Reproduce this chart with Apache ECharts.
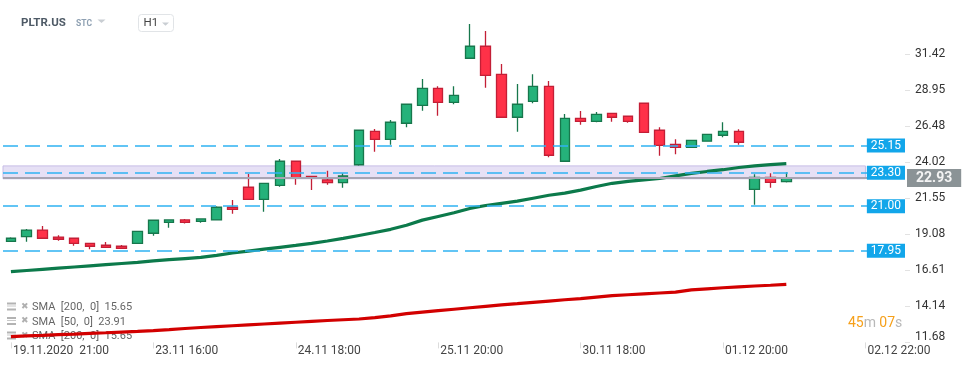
<!DOCTYPE html>
<html>
<head>
<meta charset="utf-8">
<script src="https://cdn.jsdelivr.net/npm/echarts@6/dist/echarts.min.js"></script>
<style>
html,body{margin:0;padding:0;background:#fff;}
#c{width:974px;height:368px;}
</style>
</head>
<body>
<div id="c"></div>
<script>
const categories = [
"19.11.2020 21:00",
"20.11.2020 15:00","20.11.2020 16:00","20.11.2020 17:00","20.11.2020 18:00","20.11.2020 19:00","20.11.2020 20:00","20.11.2020 21:00",
"23.11.2020 15:00","23.11.2020 16:00","23.11.2020 17:00","23.11.2020 18:00","23.11.2020 19:00","23.11.2020 20:00","23.11.2020 21:00",
"24.11.2020 15:00","24.11.2020 16:00","24.11.2020 17:00","24.11.2020 18:00","24.11.2020 19:00","24.11.2020 20:00","24.11.2020 21:00",
"25.11.2020 15:00","25.11.2020 16:00","25.11.2020 17:00","25.11.2020 18:00","25.11.2020 19:00","25.11.2020 20:00","25.11.2020 21:00",
"27.11.2020 15:00","27.11.2020 16:00","27.11.2020 17:00","27.11.2020 18:00",
"30.11.2020 15:00","30.11.2020 16:00","30.11.2020 17:00","30.11.2020 18:00","30.11.2020 19:00","30.11.2020 20:00","30.11.2020 21:00",
"01.12.2020 15:00","01.12.2020 16:00","01.12.2020 17:00","01.12.2020 18:00","01.12.2020 19:00","01.12.2020 20:00","01.12.2020 21:00",
"02.12.2020 15:00","02.12.2020 16:00","02.12.2020 17:00",
"02.12.2020 18:00","02.12.2020 19:00","02.12.2020 20:00","02.12.2020 21:00","02.12.2020 22:00","02.12.2020 23:00","03.12.2020 00:00"
];

const opens  = [18.60,18.92,19.37,18.89,18.81,18.46,18.33,18.26,18.46,19.15, 19.90,20.06,19.97,20.06,20.93,22.30,21.47,22.43,24.08,23.05, 22.80,22.61,23.84,26.13,25.58,26.68,27.91,29.07,28.11,31.13, 31.95,30.03,27.09,28.18,29.21,24.08,27.02,26.81,27.36,27.16, 28.05,26.20,25.24,25.03,25.45,25.86,26.13,22.16,22.98,22.68];
const closes = [18.81,19.37,18.81,18.74,18.46,18.26,18.19,18.12,19.28,20.04, 20.06,19.90,20.13,20.93,20.79,21.47,22.57,24.08,22.95,22.93, 22.61,23.07,26.20,25.58,26.75,27.98,29.07,28.11,28.59,31.95, 29.96,27.09,27.98,29.21,24.49,27.02,26.81,27.29,27.09,26.81, 26.06,25.17,25.03,25.51,25.92,26.13,25.38,22.98,22.64,22.93];
const lows   = [18.58,18.57,18.79,18.64,18.30,18.05,18.17,18.10,18.44,18.98, 19.53,19.81,19.87,20.04,20.49,21.45,20.63,22.34,22.47,22.11, 22.47,22.27,23.77,24.73,25.21,26.40,27.54,27.20,27.98,31.10, 29.11,27.07,26.10,28.05,24.35,24.05,26.58,26.75,26.79,26.72, 26.04,24.46,24.56,25.00,25.43,25.72,25.21,21.11,22.27,22.62];
const highs  = [18.87,19.44,19.65,19.01,18.83,18.48,18.55,18.35,19.30,20.06, 20.08,20.13,20.15,21.00,21.43,23.21,22.60,24.23,24.10,23.07, 23.43,23.25,26.22,26.29,26.90,28.00,29.71,29.21,29.21,33.47, 32.99,30.74,29.37,30.03,29.57,27.31,27.52,27.45,27.38,27.18, 28.07,26.40,25.58,25.53,25.94,26.75,26.27,23.19,23.25,23.32];

const sma50  = [16.52,16.60,16.68,16.76,16.84,16.92,17.00,17.08,17.16,17.26, 17.34,17.42,17.50,17.64,17.80,17.93,18.06,18.19,18.32,18.46, 18.62,18.80,19.00,19.20,19.42,19.70,20.05,20.30,20.55,20.85, 21.05,21.20,21.35,21.55,21.75,21.90,22.10,22.35,22.57,22.70, 22.80,22.90,23.08,23.25,23.38,23.50,23.65,23.76,23.85,23.91];
const sma200 = [12.07,12.12,12.16,12.21,12.25,12.30,12.34,12.39,12.43,12.48, 12.55,12.63,12.70,12.76,12.82,12.88,12.94,13.00,13.06,13.12, 13.18,13.23,13.28,13.38,13.50,13.65,13.75,13.85,13.95,14.05, 14.15,14.25,14.33,14.42,14.51,14.60,14.68,14.78,14.88,14.94, 15.00,15.06,15.12,15.28,15.35,15.42,15.48,15.54,15.59,15.65];

const yTicks = [11.68,14.14,16.61,19.08,21.55,24.02,26.48,28.95,31.42];
const levels = [25.15,23.30,21.00,17.95];
const zoneRange = [22.88,23.76];
const lastPrice = 22.93;
const labelEvery = 9;
const zoneEndIndex = 54;

const candleData = opens.map((o,i)=>[o, closes[i], lows[i], highs[i]]);

const chart = echarts.init(document.getElementById('c'), null, {renderer:'canvas'});
const FONT = 'Roboto, "Noto Sans", sans-serif';

const levelLines = levels.map(v => ({
  yAxis: v,
  lineStyle: {color:'#2fb2f2', width:1.6, type:[15,7]},
  label: {
    show:true, position:'insideEnd', distance:0,
    formatter: p => Number(p.value).toFixed(2),
    backgroundColor:'#12a6ea', color:'#ffffff', fontSize:12, fontFamily:FONT,
    padding:[1,4,1,4], lineHeight:12
  }
}));
const priceLine = {
  yAxis: lastPrice,
  lineStyle: {color:'#a7a4b3', width:2, type:'solid'},
  label: {
    show:true, position:'end', distance:2,
    formatter: p => Number(p.value).toFixed(2),
    backgroundColor:'#8b9396', color:'#f4f4f4', fontSize:14, fontWeight:'bold', fontFamily:FONT,
    padding:[1,9,1,9], lineHeight:16
  }
};

const last50 = sma50[sma50.length-1].toFixed(2);
const last200 = sma200[sma200.length-1].toFixed(2);
const legendRows = [
  'SMA  [200,  0]  ' + last200,
  'SMA  [50,  0]  ' + last50,
  'SMA  [200,  0]  ' + last200
];
const legendY = [306.5, 321, 335.5];
const legendGraphics = [];
legendRows.forEach((t,i)=>{
  const y = legendY[i];
  legendGraphics.push({type:'rect', shape:{x:7,y:y-4,width:9,height:2}, style:{fill:'#b3b3b3'}, z:0});
  legendGraphics.push({type:'rect', shape:{x:7,y:y-1,width:9,height:1}, style:{fill:'#c8c8c8'}, z:0});
  legendGraphics.push({type:'rect', shape:{x:7,y:y+2,width:9,height:2}, style:{fill:'#b3b3b3'}, z:0});
  legendGraphics.push({type:'text', style:{text:'✖', x:21, y:y, fill:'#b0b0b0', font:'bold 9px "DejaVu Sans"', verticalAlign:'middle'}, z:0});
  legendGraphics.push({type:'text', style:{text:t, x:32, y:y+1, fill:'#666', font:'11px '+FONT, verticalAlign:'middle'}, z:0});
});

const option = {
  animation:false,
  backgroundColor:'#ffffff',
  grid:{left:3, right:69, top:5, bottom:25.6},
  xAxis:{
    type:'category', data:categories, boundaryGap:true,
    axisLine:{show:false},
    axisTick:{show:true, alignWithLabel:true, interval:(i)=>i%labelEvery===0, length:6, lineStyle:{color:'#dcdcdc'}},
    axisLabel:{
      interval:(i)=>i%labelEvery===0, align:'left', margin:3, padding:[0,0,0,2],
      color:'#444', fontSize:12, fontFamily:FONT,
      formatter:(v,i)=> i===0 ? v.replace(' ','  ') : v.slice(0,5)+' '+v.slice(11)
    },
    splitLine:{show:false}
  },
  yAxis:{
    type:'value', position:'right', min:11.68, max:34.774, scale:true,
    axisLine:{show:false},
    splitLine:{show:false},
    axisTick:{show:true, customValues:yTicks, length:5, lineStyle:{color:'#e2e2e2'}},
    axisLabel:{
      customValues:yTicks, margin:10, color:'#333', fontSize:12, fontFamily:FONT,
      formatter:(v)=> Math.abs(v-yTicks[0])<1e-6 ? '{lo|'+Number(v).toFixed(2)+'}' : Number(v).toFixed(2),
      rich:{lo:{fontSize:12, color:'#333', fontFamily:FONT, padding:[0,0,10,0]}}
    }
  },
  series:[
    {
      type:'candlestick', name:'PLTR.US', data:candleData, barWidth:10, z:2,
      itemStyle:{color:'#25b27a', color0:'#ff3148', borderColor:'#17774c', borderColor0:'#c31f36', borderWidth:1.3}
    },
    {
      type:'line', name:'SMA 50', data:sma50, showSymbol:false, symbol:'none', z:3,
      lineStyle:{color:'#0c7a4b', width:3.2}
    },
    {
      type:'line', name:'SMA 200', data:sma200, showSymbol:false, symbol:'none', z:3,
      lineStyle:{color:'#d20000', width:3.2}
    },
    {
      type:'line', name:'levels', data:[], z:4,
      markLine:{symbol:'none', silent:true, animation:false, data:[priceLine].concat(levelLines)}
    },
    {
      type:'line', name:'zone', data:[], z:5,
      markArea:{silent:true, animation:false,
        itemStyle:{color:'rgba(182,164,226,0.34)', borderColor:'#c6bce6', borderWidth:1},
        data:[[{yAxis:zoneRange[1]},{xAxis:zoneEndIndex, yAxis:zoneRange[0]}]]
      }
    }
  ],
  graphic:[
    {type:'text', style:{text:'PLTR.US', x:21, y:23, fill:'#4e5a66', font:'bold 11.5px '+FONT, verticalAlign:'middle'}},
    {type:'text', style:{text:'STC', x:76, y:24, fill:'#8ea0b2', font:'bold 8.5px '+FONT, verticalAlign:'middle'}},
    {type:'polygon', shape:{points:[[97.5,19.5],[105.5,19.5],[101.5,23]]}, style:{fill:'#c9ced3'}},
    {type:'rect', shape:{x:138.5,y:14.5,width:35,height:17,r:3}, style:{fill:'#fff', stroke:'#e1e4e7', lineWidth:1}},
    {type:'text', style:{text:'H1', x:143.5, y:23.5, fill:'#444', font:'11.5px '+FONT, verticalAlign:'middle'}},
    {type:'polygon', shape:{points:[[162,22.5],[169,22.5],[165.5,25.8]]}, style:{fill:'#c9ced3'}},
    {type:'text', style:{text:'{o|45}{g|m} {o|07}{g|s}', x:848, y:323.5, verticalAlign:'middle',
      rich:{o:{fill:'#f6a01a', fontSize:14, fontFamily:FONT}, g:{fill:'#b8b8b8', fontSize:14, fontFamily:FONT}}}}
  ].concat(legendGraphics)
};
chart.setOption(option);
</script>
</body>
</html>
